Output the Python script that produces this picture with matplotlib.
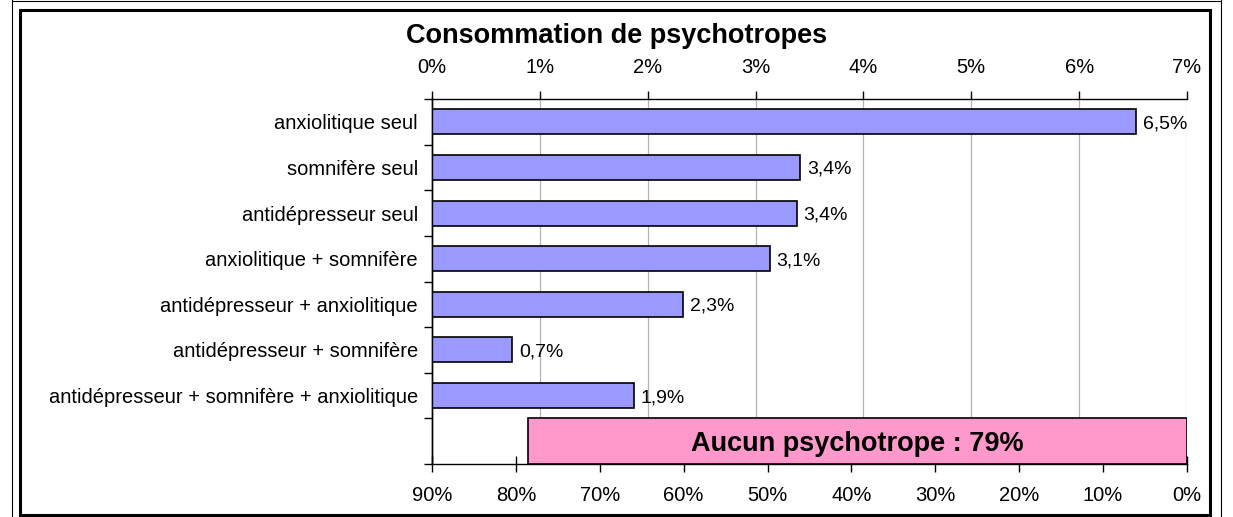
import matplotlib
matplotlib.use("Agg")
import matplotlib.pyplot as plt
from matplotlib.patches import Rectangle
from matplotlib.lines import Line2D
import numpy as np

plt.rcParams['font.family'] = ['Liberation Sans', 'DejaVu Sans']

title = "Consommation de psychotropes"
categories = [
    "anxiolitique seul",
    "somnifère seul",
    "antidépresseur seul",
    "anxiolitique + somnifère",
    "antidépresseur + anxiolitique",
    "antidépresseur + somnifère",
    "antidépresseur + somnifère + anxiolitique",
]
values = [6.53, 3.41, 3.38, 3.13, 2.33, 0.74, 1.87]
value_labels = ["6,5%", "3,4%", "3,4%", "3,1%", "2,3%", "0,7%", "1,9%"]
top_ticks = [0, 1, 2, 3, 4, 5, 6, 7]
top_tick_labels = ["0%", "1%", "2%", "3%", "4%", "5%", "6%", "7%"]
none_label = "Aucun psychotrope : 79%"
none_value = 78.6
bottom_ticks = [90, 80, 70, 60, 50, 40, 30, 20, 10, 0]
bottom_tick_labels = ["90%", "80%", "70%", "60%", "50%", "40%", "30%", "20%", "10%", "0%"]

W, H = 1233, 517
fig = plt.figure(figsize=(W / 100, H / 100), dpi=100)

left, right, top, bottom = 432, 1187, 99, 464
ax = fig.add_axes([left / W, 1 - bottom / H, (right - left) / W, (bottom - top) / H])
ax_top = ax.twiny()

n = len(categories)
# bottom (reversed) axis: pink bar
ax.set_xlim(90, 0)
ax.set_ylim(n + 0.5, -0.5)
ax.barh([n], [none_value], height=1.0, color="#FF99CC", edgecolor="black",
        linewidth=1.2, zorder=3)
ax.text(none_value / 2, n, none_label, ha="center", va="center_baseline",
        fontsize=19.5, fontweight="bold", zorder=4)
ax.set_xticks(bottom_ticks)
ax.set_xticklabels(bottom_tick_labels, fontsize=14.5)
ax.tick_params(axis="x", direction="inout", length=12, width=1, pad=9.5)

# y axis
ax.set_yticks(range(n))
ax.set_yticklabels(categories, fontsize=14.5)
ax.set_yticks(np.arange(-0.5, n + 1, 1.0), minor=True)
ax.tick_params(axis="y", which="major", length=0, pad=10)
ax.tick_params(axis="y", which="minor", length=6, width=1, direction="out")

# top axis: blue bars
ax_top.set_xlim(0, 7)
ax_top.barh(range(n), values, height=0.55, color="#9999FF", edgecolor="black",
            linewidth=1.2, zorder=3)
for i, (v, lab) in enumerate(zip(values, value_labels)):
    ax_top.text(v + 0.065, i, lab, ha="left", va="center_baseline",
                fontsize=14, zorder=4)
ax_top.set_xticks(top_ticks)
ax_top.set_xticklabels(top_tick_labels, fontsize=14.5)
ax_top.tick_params(axis="x", direction="out", length=6, width=1, pad=10)
for t in top_ticks[1:]:
    ax_top.axvline(t, color="#b4b4b4", linewidth=0.9, zorder=1)

# pink bar must be above gridlines: put ax above ax_top
ax.set_zorder(ax_top.get_zorder() + 1)
ax.patch.set_visible(False)

for a in (ax, ax_top):
    a.spines["right"].set_visible(False)
    for s in a.spines.values():
        s.set_linewidth(1)
ax_top.spines["bottom"].set_visible(False)
ax.spines["top"].set_visible(False)

# title
fig.text(617 / W, 1 - 43 / H, title, ha="center", va="baseline",
         fontsize=19.5, fontweight="bold")

# frames
fig.patches.append(Rectangle((20 / W, 1 - 515 / H), 1190 / W, 505 / H,
                             transform=fig.transFigure, fill=False,
                             edgecolor="black", linewidth=2.2))
for x in (12, 1221):
    fig.lines.append(Line2D([x / W, x / W], [0, 1], transform=fig.transFigure,
                            color="black", linewidth=0.8))
fig.lines.append(Line2D([12 / W, 1221 / W], [1 - 1 / H, 1 - 1 / H],
                        transform=fig.transFigure, color="black", linewidth=0.8))

fig.savefig("out.png", dpi=100, facecolor="white")
